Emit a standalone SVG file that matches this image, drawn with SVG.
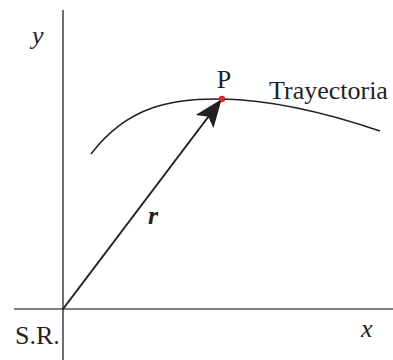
<svg xmlns="http://www.w3.org/2000/svg" width="393" height="360" viewBox="0 0 393 360">
<style>
text{font-family:"Liberation Serif","Times New Roman",serif;fill:#231f20}
.i{font-style:italic}
</style>
<defs>
<marker id="ah" viewBox="0 0 28 22" refX="27" refY="11" markerWidth="28" markerHeight="22" markerUnits="userSpaceOnUse" orient="auto">
<path d="M0,0 L28,11 L0,22 L6,11 Z" fill="#231f20"/>
</marker>
</defs>
<rect width="393" height="360" fill="#fff"/>
<g id="axes">
<line x1="14" y1="309" x2="393" y2="309" stroke="#808080" stroke-width="2"/>
<line x1="63" y1="10" x2="63" y2="360" stroke="#231f20" stroke-width="1.3"/>
</g>
<g id="trayectoria">
<path d="M91,154 C128,105 175,98 222,99 C275,100 330,114 380,131" fill="none" stroke="#231f20" stroke-width="1.5"/>
</g>
<g id="connectors">
<line x1="63" y1="309" x2="221" y2="100" stroke="#231f20" stroke-width="2" marker-end="url(#ah)"/>
</g>
<g id="P">
<circle cx="222" cy="99" r="3" fill="#e4282c" stroke="#8b1a1a" stroke-width="0.5"/>
<text x="224" y="88" font-size="26" text-anchor="middle">P</text>
</g>
<text x="269" y="99" font-size="26">Trayectoria</text>
<text x="148" y="224" font-size="26" class="i" font-weight="bold">r</text>
<text x="32" y="44" font-size="26" class="i">y</text>
<text x="361" y="337" font-size="26" class="i">x</text>
<text x="15" y="344" font-size="26">S.R.</text>
</svg>
